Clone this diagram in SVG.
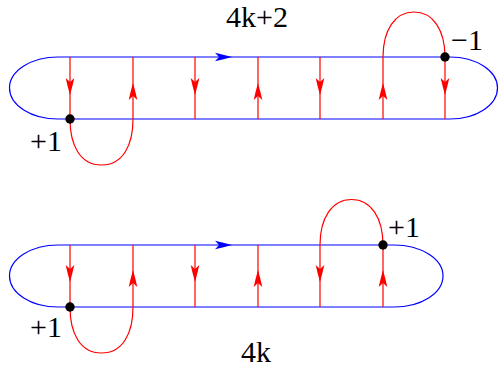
<svg xmlns="http://www.w3.org/2000/svg" xmlns:xlink="http://www.w3.org/1999/xlink" width="500" height="367" viewBox="0 0 500 367">
<style>
.blue{fill:none;stroke:#0000ff;stroke-width:1.2}
.red{fill:none;stroke:#ff0000;stroke-width:1.2}
.lbl{font-family:"Liberation Serif","Times New Roman",serif;font-size:30px;fill:#000}
.dot{fill:#000}
</style>
<defs>
<path id="rah" d="M0,0 Q-2.6,-9 -4.3,-17 L0,-13 L4.3,-17 Q2.6,-9 0,0 Z" fill="#ff0000"/>
<path id="bah" d="M0,0 Q-9,-2.6 -17,-4.3 L-13,0 L-17,4.3 Q-9,2.6 0,0 Z" fill="#0000ff"/>
</defs>
<rect width="500" height="367" fill="#fff"/>
<g id="band-top">
<path class="blue" d="M58,57 H450 A47.5 31 0 0 1 450,119 H58 A48.5 31 0 0 1 58,57 Z"/>
<use xlink:href="#bah" transform="translate(232,57)"/>
</g>
<g id="connectors-top">
<path class="red" d="M70,57 V119 C70,145 80,165 101.5,165 C123,165 133,145 133,119 V57"/>
<path class="red" d="M195,57 V119 M258,57 V119 M320,57 V119"/>
<path class="red" d="M383,119 V57 C383,30 395,12 414,12 C433,12 445,30 445,57 V119"/>
<use xlink:href="#rah" transform="translate(70,95)"/>
<use xlink:href="#rah" transform="translate(133,83) rotate(180)"/>
<use xlink:href="#rah" transform="translate(195,95)"/>
<use xlink:href="#rah" transform="translate(258,83) rotate(180)"/>
<use xlink:href="#rah" transform="translate(320,95)"/>
<use xlink:href="#rah" transform="translate(383,83) rotate(180)"/>
<use xlink:href="#rah" transform="translate(445,95)"/>
</g>
<g id="dots-top">
<circle class="dot" cx="70" cy="119" r="4.7"/>
<circle class="dot" cx="445" cy="57" r="4.7"/>
</g>
<g id="band-bottom">
<path class="blue" d="M58,245 H394 A49 31 0 0 1 394,307 H58 A48.5 31 0 0 1 58,245 Z"/>
<use xlink:href="#bah" transform="translate(232,245)"/>
</g>
<g id="connectors-bottom">
<path class="red" d="M70,245 V307 C70,333 80,353 101.5,353 C123,353 133,333 133,307 V245"/>
<path class="red" d="M195,245 V307 M258,245 V307"/>
<path class="red" d="M320,307 V245 C320,218 332,199.5 351.5,199.5 C371,199.5 383,218 383,245 V307"/>
<use xlink:href="#rah" transform="translate(70,282)"/>
<use xlink:href="#rah" transform="translate(133,270) rotate(180)"/>
<use xlink:href="#rah" transform="translate(195,282)"/>
<use xlink:href="#rah" transform="translate(258,270) rotate(180)"/>
<use xlink:href="#rah" transform="translate(320,282)"/>
<use xlink:href="#rah" transform="translate(383,270) rotate(180)"/>
</g>
<g id="dots-bottom">
<circle class="dot" cx="70" cy="307" r="4.7"/>
<circle class="dot" cx="383" cy="245" r="4.7"/>
</g>
<g id="labels">
<text class="lbl" x="226" y="27">4k+2</text>
<text class="lbl" x="451" y="50">−1</text>
<text class="lbl" x="30" y="151">+1</text>
<text class="lbl" x="388" y="237">+1</text>
<text class="lbl" x="30" y="337">+1</text>
<text class="lbl" x="241" y="362">4k</text>
</g>
</svg>
